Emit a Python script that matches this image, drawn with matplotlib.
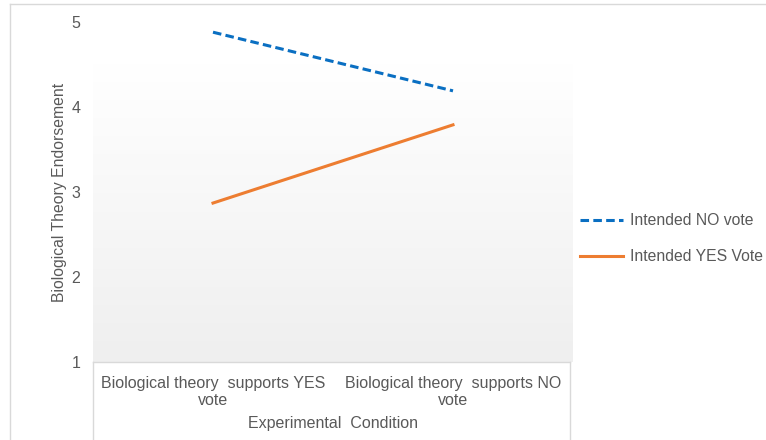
import matplotlib.pyplot as plt
import numpy as np

plt.rcParams['font.family'] = ['Liberation Sans', 'DejaVu Sans']

conditions = ['Biological theory  supports YES\nvote', 'Biological theory  supports NO\nvote']
no_vote = [4.88, 4.19]
yes_vote = [2.87, 3.79]
series_names = ['Intended NO vote', 'Intended YES Vote']

W, H = 766, 440
fig = plt.figure(figsize=(W / 100, H / 100), dpi=100)
txt = '#595959'

# axes: x 93..573 px, y value 5 at 22 px, value 1 at 362 px
ax = fig.add_axes([93 / W, 1 - 362 / H, 480 / W, 340 / H])
ax.set_xlim(-0.5, 1.5)
ax.set_ylim(1, 5)
ax.patch.set_alpha(0)
for s in ax.spines.values():
    s.set_visible(False)

# gradient plot area (starts a bit below the top of the axis)
top = 5 - 40 / 85
grad = np.linspace(0, 1, 100).reshape(-1, 1)
cmap = plt.matplotlib.colors.LinearSegmentedColormap.from_list('g', ['#efefef', '#ffffff'])
ax.imshow(grad, cmap=cmap, extent=[-0.5, 1.5, 1, top], origin='lower', aspect='auto', zorder=0)

x = np.arange(len(conditions))
ax.plot(x, no_vote, color='#0a6fc2', lw=2.2, ls=(0, (2.8, 1.4)), label=series_names[0], zorder=3)
ax.plot(x, yes_vote, color='#ed7d31', lw=2.2, label=series_names[1], zorder=3)

ax.set_yticks([1, 2, 3, 4, 5])
ax.tick_params(axis='y', length=0, pad=9, labelsize=11.5, labelcolor=txt)
ax.set_xticks(x)
ax.set_xticklabels(conditions, linespacing=1.15)
ax.tick_params(axis='x', length=0, pad=10, labelsize=11.5, labelcolor=txt)
ax.set_xlabel('Experimental  Condition', fontsize=11.5, color=txt, labelpad=6)
ax.set_ylabel('Biological Theory Endorsement', fontsize=11.3, color=txt, labelpad=3)

# x-axis box and outer frame
fc = '#d9d9d9'
fig.add_artist(plt.Line2D([93 / W, 570 / W], [1 - 362 / H] * 2, color=fc, lw=1))
fig.add_artist(plt.Line2D([93 / W] * 2, [0, 1 - 362 / H], color=fc, lw=1))
fig.add_artist(plt.Line2D([570 / W] * 2, [0, 1 - 362 / H], color=fc, lw=1))
fig.add_artist(plt.Line2D([10 / W, 1], [1 - 4 / H] * 2, color=fc, lw=1))
fig.add_artist(plt.Line2D([10 / W] * 2, [0, 1 - 4 / H], color=fc, lw=1))

leg = fig.legend(loc='upper left', bbox_to_anchor=(566 / W, 1 - 199 / H), frameon=False,
                 fontsize=11.3, labelcolor=txt, handlelength=2.7, handletextpad=0.5,
                 labelspacing=1.35)

fig.savefig('out.png', dpi=100)
